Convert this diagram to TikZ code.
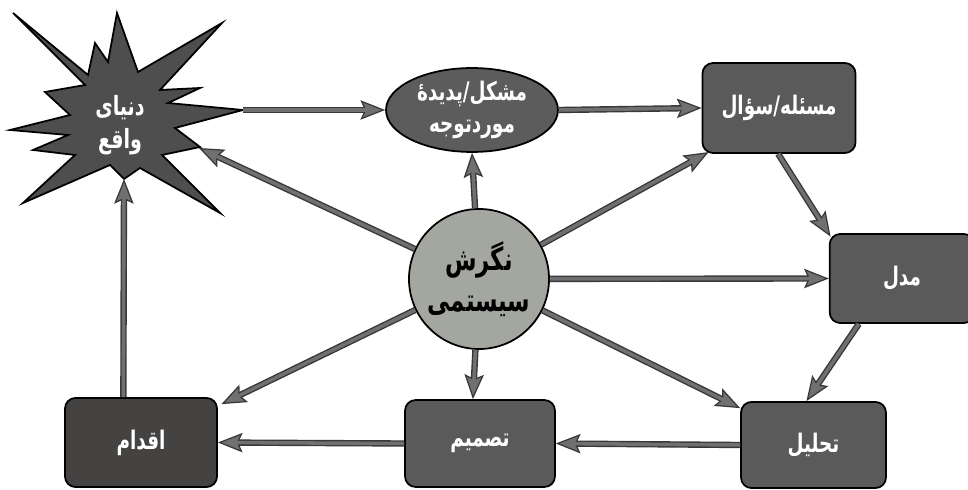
\documentclass[tikz,border=0pt]{standalone}
\usepackage{fontspec}
\usetikzlibrary{arrows.meta,shapes.geometric}
\TeXXeTstate=1
\newfontfamily\fa[Script=Arabic]{DejaVu Sans}
\newcommand\rtlx[1]{\scalebox{0.72}[1]{\beginR #1\endR}}
\definecolor{boxgray}{HTML}{5A5A5A}
\definecolor{actgray}{HTML}{454242}
\definecolor{stargray}{HTML}{4E4E4E}
\definecolor{ellgray}{HTML}{5C5C5C}
\definecolor{circgray}{HTML}{A4A79F}
\definecolor{arrgray}{HTML}{707070}
\definecolor{arrdark}{HTML}{383838}
\begin{document}
\begin{tikzpicture}[x=0.567pt,y=-0.567pt,
  box/.style={draw=black, line width=1pt, fill=boxgray, rounded corners=6pt,
    text=white, font=\fa\bfseries\fontsize{14.5}{17}\selectfont, inner sep=0pt},
  arr/.style={draw=arrdark, line width=3.6pt,
    -{Stealth[length=14pt,width=11pt,inset=2.5pt,fill=arrgray,line width=0.7pt]},
    postaction={draw=arrgray, line width=2pt, -, shorten >=9pt}},
  lbl/.style={align=center, inner sep=0pt}]
\useasboundingbox (0,0) rectangle (968,490);
% real world starburst
\draw[line width=1pt, fill=stargray, line join=miter]
  (13,13) -- (88,75) -- (95,43) -- (108,62) -- (117,13) -- (138,72) -- (222,23)
  -- (160,90) -- (200,88) -- (168,103) -- (243,110) -- (175,128) -- (200,147)
  -- (162,155) -- (220,213) -- (140,168) -- (124,179) -- (110,165) -- (23,203)
  -- (75,155) -- (33,150) -- (68,135) -- (10,130) -- (70,115) -- (45,92)
  -- (85,85) -- cycle;
\coordinate (wR) at (243,110);
\coordinate (wD) at (199,148);
\coordinate (wB) at (124,179);
\node[lbl, text=white, font=\fa\bfseries\fontsize{15}{19}\selectfont] (w) at (120,125)
  {\rtlx{دنیای}\\\rtlx{واقع}};
% problem ellipse
\node[ellipse, draw=black, line width=1pt, fill=ellgray, minimum width=97.5pt,
  minimum height=47.6pt, inner sep=0pt, text=white, align=center,
  font=\fa\bfseries\fontsize{14.5}{18}\selectfont] (e) at (472,110)
  {\rtlx{مشکل/پدیدهٔ}\\\rtlx{موردتوجه}};
% boxes
\node[box, minimum width=86.8pt, minimum height=51pt] (q) at (779,108)
  {\rtlx{مسئله/سؤال}};
\node[box, minimum width=82pt, minimum height=50.5pt] (m) at (902,278.5)
  {\rtlx{مدل}};
\node[box, minimum width=82.2pt, minimum height=48.8pt] (t) at (813.5,445)
  {\rtlx{تحلیل}};
\node[box, minimum width=85pt, minimum height=49.3pt] (d) at (480,443.5)
  {\rtlx{تصمیم}};
\node[box, fill=actgray, minimum width=86.2pt, minimum height=50.5pt] (a) at (141,442.5)
  {\rtlx{اقدام}};
% systems thinking circle
\node[circle, draw=black, line width=1pt, fill=circgray, minimum size=79.4pt,
  inner sep=0pt, align=center, text=black,
  font=\fa\bfseries\fontsize{18}{23}\selectfont] (c) at (479,279)
  {\rtlx{نگرش}\\\rtlx{سیستمی}};
% cycle arrows
\draw[arr] (wR) -- (e.west);
\draw[arr] (e.east) -- (q.west);
\draw[arr] ([xshift=-0.5pt]q.south) -- ([xshift=1pt,yshift=-2pt]m.north west);
\draw[arr] ([xshift=17pt]m.south west) -- ([xshift=-4pt]t.north);
\draw[arr] (t.west) -- (d.east);
\draw[arr] (d.west) -- (a.east);
\draw[arr] ([xshift=-10pt]a.north) -- (wB);
% arrows from the circle
\draw[arr] (c) -- (wD);
\draw[arr] (c) -- (e.south);
\draw[arr] (c) -- ([xshift=4pt,yshift=1pt]q.south west);
\draw[arr] (c) -- (m.west);
\draw[arr] (c) -- ([xshift=0pt,yshift=-4pt]t.north west);
\draw[arr] (c) -- ([xshift=-4pt]d.north);
\draw[arr] (c) -- ([xshift=2pt,yshift=-4pt]a.north east);
\end{tikzpicture}
\end{document}
